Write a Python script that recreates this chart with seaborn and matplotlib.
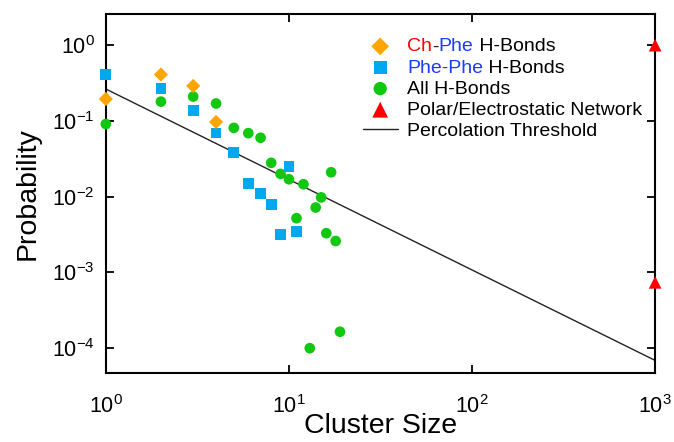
import matplotlib
matplotlib.use("Agg")
import matplotlib.pyplot as plt
import seaborn as sns

# cluster size distributions
ch_x = [1, 2, 3, 4]
ch_y = [0.195, 0.41, 0.29, 0.097]

pp_x = [1, 2, 3, 4, 5, 6, 7, 8, 9, 10, 11]
pp_y = [0.41, 0.27, 0.138, 0.069, 0.038, 0.015, 0.011, 0.0079, 0.0032, 0.025, 0.0035]

all_x = [1, 2, 3, 4, 5, 6, 7, 8, 9, 10, 11, 12, 13, 14, 15, 16, 17, 18, 19]
all_y = [0.091, 0.18, 0.21, 0.17, 0.081, 0.069, 0.060, 0.028, 0.020, 0.017,
         0.0052, 0.0146, 1.0e-4, 0.0072, 0.0098, 0.0033, 0.021, 0.0026, 1.65e-4]

polar_x = [1000, 1000]
polar_y = [1.0, 7.4e-4]

perc_x = [1, 1000]
perc_y = [0.264, 6.9e-5]

sns.set_style("ticks")
plt.rcParams['font.family'] = ['Liberation Sans', 'DejaVu Sans']
plt.rcParams['mathtext.fontset'] = 'custom'
plt.rcParams['mathtext.rm'] = 'Liberation Sans'
plt.rcParams['mathtext.default'] = 'regular'
plt.rcParams['axes.unicode_minus'] = False
plt.rcParams['text.color'] = 'black'
plt.rcParams['axes.labelcolor'] = 'black'

fig = plt.figure(figsize=(6.74, 4.42), dpi=100)
ax = fig.add_axes([0.157, 0.156, 0.815, 0.812])

orange = '#ffa500'
blue = '#00a8f0'
green = '#11c811'
red = '#ff0000'

sns.lineplot(x=perc_x, y=perc_y, color='#222222', lw=1.0, ax=ax, label='Percolation Threshold', zorder=1)
sns.scatterplot(x=all_x, y=all_y, marker='o', s=59, color=green, edgecolor='none', ax=ax,
                label='All H-Bonds', clip_on=False, zorder=3)
sns.scatterplot(x=pp_x, y=pp_y, marker='s', s=59, color=blue, edgecolor='none', ax=ax,
                label='Phe-Phe', clip_on=False, zorder=4)
sns.scatterplot(x=ch_x, y=ch_y, marker='D', s=52, color=orange, edgecolor='none', ax=ax,
                label='Ch', clip_on=False, zorder=5)
sns.scatterplot(x=polar_x, y=polar_y, marker='^', s=83, color=red, edgecolor='none', ax=ax,
                label='Polar/Electrostatic Network', clip_on=False, zorder=6)

ax.set_xscale('log')
ax.set_yscale('log')
ax.set_xlim(1, 1000)
ax.set_ylim(4.7e-5, 2.57)
ax.minorticks_off()

for s in ax.spines.values():
    s.set_linewidth(1.5)
    s.set_color('black')
ax.tick_params(which='major', direction='in', length=6, width=1.3, top=True, right=True,
               labelsize=15.5, colors='black')
ax.tick_params(axis='x', pad=16)
ax.tick_params(axis='y', pad=8)

ax.set_xlabel('Cluster Size', fontsize=20.5, labelpad=-4)
ax.set_ylabel('Probability', fontsize=20.5, labelpad=8)

h, l = ax.get_legend_handles_labels()
order = ['Ch', 'Phe-Phe', 'All H-Bonds', 'Polar/Electrostatic Network', 'Percolation Threshold']
hl = dict(zip(l, h))
leg = ax.legend([hl[k] for k in order], order, loc='upper left',
                bbox_to_anchor=((353 - 106) / 549, (373 - 28) / 359),
                frameon=False, fontsize=14, borderpad=0, labelspacing=0.18,
                handlelength=1.8, handletextpad=0.5, markerscale=1.25)
texts = leg.get_texts()
for t in texts:
    t.set_color('black')
texts[0].set_color(red)
texts[1].set_color('#1a3cff')

fig.canvas.draw()

# colored pieces of the legend labels
a1 = ax.annotate('-', xy=(1, 0), xycoords=texts[0], va='bottom', ha='left',
                 fontsize=14, color='#222222', zorder=7)
a2 = ax.annotate('Phe', xy=(1, 0), xycoords=a1, va='bottom', ha='left',
                 fontsize=14, color='#1a3cff', zorder=7)
ax.annotate(' H-Bonds', xy=(1, 0), xycoords=a2, va='bottom', ha='left',
            fontsize=14, color='black', zorder=7)
ax.annotate(' H-Bonds', xy=(1, 0), xycoords=texts[1], va='bottom', ha='left',
            fontsize=14, color='black', zorder=7)

fig.savefig('out.png', dpi=100)
